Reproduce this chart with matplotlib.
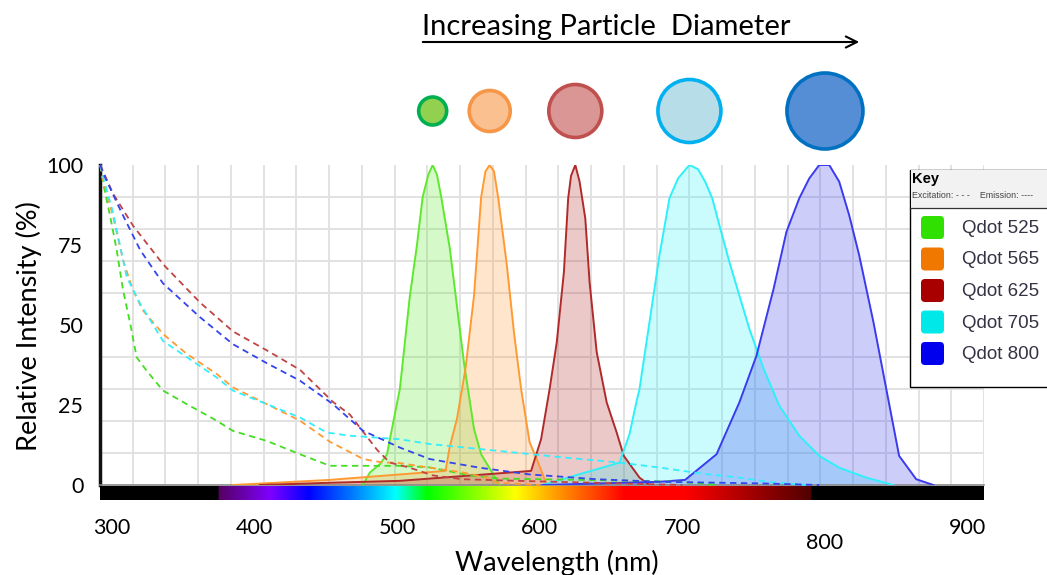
import numpy as np
import matplotlib
matplotlib.use('Agg')
import matplotlib.pyplot as plt
from matplotlib.patches import Circle, Rectangle, FancyBboxPatch, FancyArrowPatch
from matplotlib.transforms import ScaledTranslation

# ---------------- data ----------------
names = ['Qdot 525', 'Qdot 565', 'Qdot 625', 'Qdot 705', 'Qdot 800']
peak_nm = [525, 565, 625, 705, 800]

# emission spectra (solid, filled)
em525_x = [476, 481, 488, 493, 495, 502, 509, 514, 518, 522, 525, 528, 531, 537, 542, 547, 554, 559, 566, 570, 572]
em525_y = [0, 3.9, 6.5, 9.6, 14.3, 30, 59, 75, 90, 97, 100, 97, 90, 74, 56, 38, 17.5, 9.6, 4.4, 1.3, 0]

em565_x = [385, 453, 502, 534, 537, 542, 548, 554, 559, 562, 565, 568, 571, 577, 582, 587, 593, 598, 605]
em565_y = [0, 1.6, 3.3, 4.4, 12, 20.6, 36.3, 59.2, 90, 98, 100, 98, 89.6, 68.7, 47.7, 30, 13.3, 8.1, 0]

em625_x = [404, 453, 502, 594, 601, 607, 612, 617, 620, 622, 625, 628, 632, 635, 640, 647, 654, 659, 670, 677]
em625_y = [0, 0.7, 1.3, 4.4, 14.3, 30, 44.6, 66.5, 89.6, 96.6, 100, 94.8, 83.3, 63.4, 41.5, 25.8, 16.4, 9.1, 2.3, 0]

em705_x = [602, 656, 663, 668, 670, 677, 684, 691, 697, 705, 711, 716, 721, 726, 733, 740, 747, 757, 768, 782, 796, 810, 829, 848]
em705_y = [0, 7, 15.9, 26.3, 30, 50.9, 71.8, 89.6, 95.8, 100, 98.7, 94.8, 89.6, 81.2, 69.7, 59.2, 48.8, 36.3, 24.8, 15.4, 9.1, 5.4, 2.3, 0]

em800_x = [602, 684, 702, 724, 740, 752, 764, 773, 782, 789, 796, 803, 810, 817, 824, 834, 843, 852, 864, 876]
em800_y = [0, 1.0, 1.6, 9.6, 25.8, 40.4, 61.3, 79.1, 89.6, 95.8, 100, 100, 94.8, 84.3, 71.8, 50.9, 30, 9.1, 1.8, 0]

# excitation spectra (dashed)
ex525_x = [292, 294, 299, 303.5, 308, 313, 317.5, 324.5, 336, 352.5, 373.6, 385, 408.6, 432, 453, 502, 523, 551, 572, 642, 698, 726]
ex525_y = [100, 94.3, 83.8, 73.4, 60.8, 50.4, 39.9, 35.7, 29.5, 25.3, 20.1, 16.9, 13.8, 9.6, 6, 6, 5.5, 3, 2, 1.5, 1, 0]

ex565_x = [292, 294, 301, 308, 315, 322, 336, 352.5, 373.6, 385, 408.6, 432, 453, 476.4, 490.4, 499.8, 523, 546.5, 563, 570, 600]
ex565_y = [100, 95.3, 83.8, 70.2, 60.8, 54.5, 47.2, 41, 34.7, 30.5, 25.3, 20.1, 13.5, 8.1, 7, 7, 5.4, 3.9, 2.3, 0.7, 0]

ex625_x = [292, 301, 315, 336, 362, 385, 409, 432, 455, 467, 486, 495, 509, 525, 546, 593, 656, 700]
ex625_y = [100, 91, 81, 69, 57, 48, 42, 36, 26, 22, 11, 7, 5.4, 3, 1.8, 1.2, 0.5, 0]

ex705_x = [292, 294, 301, 310.5, 320, 336, 352.5, 373.6, 385, 408.6, 432, 450.7, 467, 502, 523, 570, 617, 656, 685, 713, 740, 761, 787]
ex705_y = [100, 96.3, 85, 65, 56.6, 45, 40, 33.6, 29.5, 25.3, 21.1, 16.4, 15.4, 14.3, 12.8, 10.7, 8.6, 7, 5.4, 3.6, 2.3, 0.9, 0]

ex800_x = [292, 294, 306, 320, 336, 362, 385, 409, 432, 455, 476, 502, 523, 558, 593, 640, 685, 755, 796]
ex800_y = [100, 97.4, 86, 73.4, 63, 52.4, 44, 38, 32.6, 25.3, 17, 11.7, 8.1, 5.4, 3.3, 1.8, 1, 0.5, 0]

x_ticks = [300, 400, 500, 600, 700, 800, 900]
y_ticks = [0, 25, 50, 75, 100]

# ---------------- style ----------------
W, H = 1047, 575
line_colors = ['#5ee82e', '#ff9a33', '#b02a2a', '#2ef0f8', '#3a3aee']
dash_colors = ['#44dd22', '#ff9a33', '#c04444', '#33eeff', '#3344ee']
key_colors = ['#2fe000', '#f07800', '#a80000', '#00e8e8', '#0000ee']
circ_face = ['#92d050', '#fac090', '#d99694', '#b7dde8', '#558ed5']
circ_edge = ['#00b050', '#f79646', '#c0504d', '#00b0f0', '#0070c0']
circ_r = [14, 20.5, 26.5, 31.5, 38]

FONT = 'Lato'
XMIN, XMAX = 291.8, 911.5

fig = plt.figure(figsize=(W / 100, H / 100), dpi=100)
ax = fig.add_axes([100 / W, (H - 485) / H, 884 / W, 320 / H])
ax.set_xlim(XMIN, XMAX)
ax.set_ylim(0, 100)

ax.set_xticks(np.linspace(XMIN, XMAX, 28), minor=True)
ax.set_yticks(np.arange(0, 101, 10), minor=True)
ax.grid(which='minor', color='#e2e2e2', lw=1.4, zorder=0)
ax.grid(which='major', visible=False)
ax.set_axisbelow(True)
ax.set_xticks(x_ticks)
ax.set_yticks(y_ticks)
ax.tick_params(which='both', length=0)
ax.tick_params(axis='y', pad=12, labelsize=15.5)
ax.tick_params(axis='x', pad=24, labelsize=15.5)
for lab in ax.get_xticklabels() + ax.get_yticklabels():
    lab.set_fontfamily(FONT)
for lab in ax.get_xticklabels():
    if lab.get_text() == '800':
        lab.set_transform(lab.get_transform() + ScaledTranslation(0, -0.15, fig.dpi_scale_trans))
for s in ['top', 'right']:
    ax.spines[s].set_visible(False)
ax.spines['left'].set_color('#111111')
ax.spines['left'].set_linewidth(2.5)
ax.spines['bottom'].set_color('#888888')
ax.spines['bottom'].set_linewidth(1.2)

ems = [(em525_x, em525_y), (em565_x, em565_y), (em625_x, em625_y), (em705_x, em705_y), (em800_x, em800_y)]
exs = [(ex525_x, ex525_y), (ex565_x, ex565_y), (ex625_x, ex625_y), (ex705_x, ex705_y), (ex800_x, ex800_y)]

for (x, y), c in zip(ems, line_colors):
    ax.fill_between(x, y, 0, color=c, alpha=0.25, lw=0, zorder=2)
for (x, y), c in zip(ems, line_colors):
    ax.plot(x, y, color=c, lw=1.4, zorder=3)
for (x, y), c in zip(exs, dash_colors):
    ax.plot(x, y, color=c, lw=1.3, ls=(0, (3.5, 2.5)), zorder=4, clip_on=False)

# spectrum bar under the axis
bar = fig.add_axes([100 / W, (H - 500) / H, 884 / W, 14 / H])
bar.set_xlim(XMIN, XMAX)
wl = np.linspace(XMIN, XMAX, 1200)
stops = [375, 411, 438, 470, 499, 521, 560, 583, 620, 660, 701, 790, 791]
rs = [0.33, 0.50, 0.0, 0.0, 0.0, 0.0, 0.62, 1.0, 1.0, 1.0, 1.0, 0.32, 0.0]
gs = [0.0, 0.0, 0.0, 0.5, 1.0, 1.0, 1.0, 1.0, 0.5, 0.0, 0.0, 0.0, 0.0]
bs = [0.38, 1.0, 1.0, 1.0, 1.0, 0.0, 0.0, 0.0, 0.0, 0.0, 0.0, 0.0, 0.0]
inside = (wl >= stops[0]) & (wl <= stops[-1])
rgb = np.stack([np.interp(wl, stops, rs), np.interp(wl, stops, gs), np.interp(wl, stops, bs)], axis=-1)
rgb[~inside] = 0
bar.imshow(rgb[None, :, :], extent=[XMIN, XMAX, 0, 1], aspect='auto', interpolation='bilinear')
bar.set_ylim(0, 1)
bar.axis('off')

# overlay in pixel coordinates
ov = fig.add_axes([0, 0, 1, 1], zorder=10)
ov.set_xlim(0, W)
ov.set_ylim(H, 0)
ov.axis('off')

fig.text(557 / W, 1 - 563 / H, 'Wavelength (nm)', ha='center', va='center', fontsize=19.5, family=FONT)
fig.text(29 / W, 1 - 326 / H, 'Relative Intensity (%)', ha='center', va='center', rotation=90, fontsize=19.5, family=FONT)

ov.text(422, 27, 'Increasing Particle  Diameter', ha='left', va='center', fontsize=21, family=FONT)
ov.add_patch(FancyArrowPatch((420, 42), (862, 42), arrowstyle='->,head_length=8,head_width=4',
                             color='black', lw=1.5, mutation_scale=1))

for pk, fc, ec, r in zip(peak_nm, circ_face, circ_edge, circ_r):
    cx = ax.transData.transform((pk, 0))[0]
    ov.add_patch(Circle((cx, 111), r, facecolor=fc, edgecolor=ec, lw=2.6))

# key box
ov.add_patch(Rectangle((910, 169.5), 150, 217, facecolor='white', edgecolor='black', lw=1.0, clip_on=False))
ov.add_patch(Rectangle((910.5, 170), 149, 37.5, facecolor='#f2f2f2', edgecolor='none'))
ov.plot([910, 1047], [207.5, 207.5], color='#333333', lw=0.9)
ov.text(912, 179, 'Key', fontsize=10.5, fontweight='bold', family='Liberation Sans', va='center', ha='left')
ov.text(912, 195, 'Excitation: - - -    Emission: ----', fontsize=6.4, family='Liberation Sans',
        color='#444444', va='center', ha='left')
for i, (nm, kc) in enumerate(zip(names, key_colors)):
    cy = 227.5 + i * 31.5
    ov.add_patch(FancyBboxPatch((921, cy - 11.5), 23, 23, boxstyle='round,pad=0,rounding_size=4',
                                facecolor=kc, edgecolor='none'))
    ov.text(962, cy + 1, nm, fontsize=13.5, family='Liberation Sans', color='#333344', va='center', ha='left')

fig.savefig('out.png', dpi=100)
